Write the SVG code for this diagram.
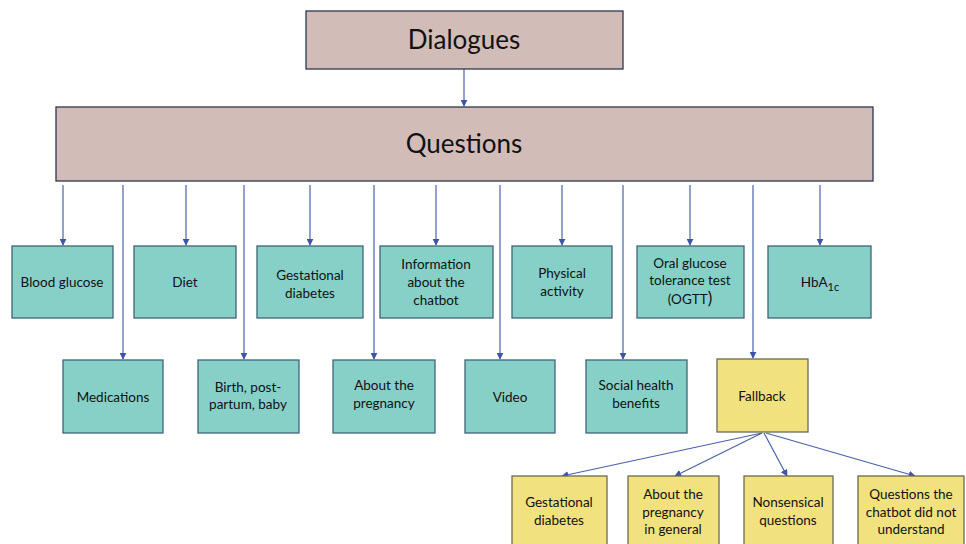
<svg xmlns="http://www.w3.org/2000/svg" width="966" height="544" viewBox="0 0 966 544">
<defs>
<marker id="ah" viewBox="0 0 10 10" refX="9" refY="5" markerWidth="7" markerHeight="7" markerUnits="userSpaceOnUse" orient="auto">
<path d="M0,0 L10,5 L0,10 z" fill="#3b55a8"/>
</marker>
</defs>
<style>
.top{fill:#d2bcb8;stroke:#2e3650;stroke-width:1.3}
.teal{fill:#86d0c8;stroke:#3f6478;stroke-width:1.3}
.yel{fill:#f2e17f;stroke:#6a6a55;stroke-width:1.3}
.big{font-family:Lato,"Open Sans",sans-serif;font-size:26px;fill:#111;text-anchor:middle}
.t{font-family:Lato,"Open Sans",sans-serif;font-size:13.5px;fill:#111;text-anchor:middle}
.c line{stroke:#4a62a8;stroke-width:1.2;marker-end:url(#ah)}
</style>
<rect width="966" height="544" fill="#fff"/>
<g class="c" id="connectors">
<line x1="464" y1="69" x2="464" y2="106"/>
<line x1="63" y1="185" x2="63" y2="245"/>
<line x1="123" y1="185" x2="123" y2="359"/>
<line x1="186" y1="185" x2="186" y2="245"/>
<line x1="244" y1="185" x2="244" y2="359"/>
<line x1="310" y1="185" x2="310" y2="245"/>
<line x1="374" y1="185" x2="374" y2="359"/>
<line x1="436" y1="185" x2="436" y2="245"/>
<line x1="500" y1="185" x2="500" y2="359"/>
<line x1="562" y1="185" x2="562" y2="245"/>
<line x1="623" y1="185" x2="623" y2="359"/>
<line x1="690" y1="185" x2="690" y2="245"/>
<line x1="753" y1="185" x2="753" y2="358"/>
<line x1="820" y1="185" x2="820" y2="245"/>
<line x1="762" y1="433" x2="562" y2="476"/>
<line x1="762" y1="433" x2="675" y2="476"/>
<line x1="764" y1="433" x2="787" y2="476"/>
<line x1="766" y1="433" x2="915" y2="476"/>
</g>
<g id="dialogues"><rect class="top" x="306" y="11" width="317" height="58"/><text class="big" x="464" y="49">Dialogues</text></g>
<g id="questions"><rect class="top" x="56" y="107" width="817" height="74"/><text class="big" x="464" y="153">Questions</text></g>
<g id="blood-glucose"><rect class="teal" x="12" y="246" width="101" height="72"/><text class="t" x="62" y="287">Blood glucose</text></g>
<g id="diet"><rect class="teal" x="134" y="246" width="102" height="72"/><text class="t" x="185" y="287">Diet</text></g>
<g id="gestational"><rect class="teal" x="257" y="246" width="106" height="72"/><text class="t" x="310" y="280">Gestational</text><text class="t" x="310" y="298">diabetes</text></g>
<g id="information"><rect class="teal" x="380" y="246" width="113" height="72"/><text class="t" x="436" y="269">Information</text><text class="t" x="436" y="287">about the</text><text class="t" x="436" y="305">chatbot</text></g>
<g id="physical"><rect class="teal" x="512" y="246" width="100" height="72"/><text class="t" x="562" y="278">Physical</text><text class="t" x="562" y="296">activity</text></g>
<g id="ogtt"><rect class="teal" x="637" y="246" width="107" height="72"/><text class="t" x="690" y="268">Oral glucose</text><text class="t" x="690" y="285">tolerance test</text><text class="t" x="690" y="304">(OGTT<tspan font-size="17">)</tspan></text></g>
<g id="hba1c"><rect class="teal" x="768" y="246" width="103" height="72"/><text class="t" x="820" y="287">HbA<tspan font-size="11" dy="4">1c</tspan></text></g>
<g id="medications"><rect class="teal" x="63" y="360" width="100" height="73"/><text class="t" x="113" y="402">Medications</text></g>
<g id="birth"><rect class="teal" x="198" y="360" width="101" height="73"/><text class="t" x="248" y="392">Birth, post-</text><text class="t" x="248" y="409">partum, baby</text></g>
<g id="about-pregnancy"><rect class="teal" x="333" y="360" width="102" height="73"/><text class="t" x="384" y="390">About the</text><text class="t" x="384" y="408">pregnancy</text></g>
<g id="video"><rect class="teal" x="465" y="360" width="90" height="73"/><text class="t" x="510" y="402">Video</text></g>
<g id="social"><rect class="teal" x="586" y="360" width="101" height="73"/><text class="t" x="636" y="390">Social health</text><text class="t" x="636" y="408">benefits</text></g>
<g id="fallback"><rect class="yel" x="717" y="359" width="91" height="73"/><text class="t" x="762" y="401">Fallback</text></g>
<g id="fb-gestational"><rect class="yel" x="512" y="476" width="95" height="74"/><text class="t" x="559" y="507">Gestational</text><text class="t" x="559" y="525">diabetes</text></g>
<g id="fb-about"><rect class="yel" x="628" y="476" width="91" height="74"/><text class="t" x="673" y="499">About the</text><text class="t" x="673" y="517">pregnancy</text><text class="t" x="673" y="534">in general</text></g>
<g id="fb-nonsensical"><rect class="yel" x="744" y="476" width="89" height="74"/><text class="t" x="788" y="507">Nonsensical</text><text class="t" x="788" y="525">questions</text></g>
<g id="fb-notunderstood"><rect class="yel" x="858" y="476" width="106" height="74"/><text class="t" x="911" y="499">Questions the</text><text class="t" x="911" y="517">chatbot did not</text><text class="t" x="911" y="534">understand</text></g>
</svg>
